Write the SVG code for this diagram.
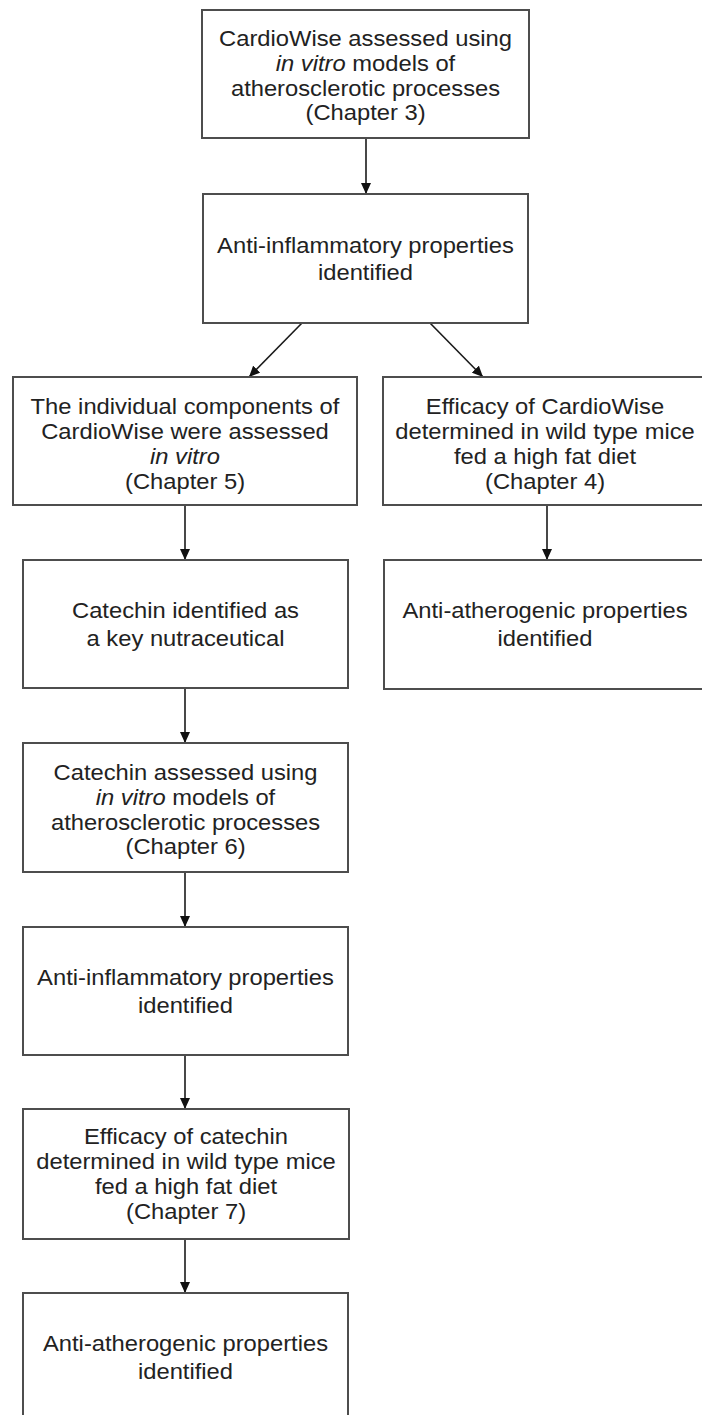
<svg xmlns="http://www.w3.org/2000/svg" width="702" height="1415" viewBox="0 0 702 1415">
<style>
.box{fill:#ffffff;stroke:#4d4d4d;stroke-width:2}
.t{font-family:"Liberation Sans",Arial,sans-serif;font-size:22px;fill:#222222;text-anchor:middle}
.i{font-style:italic}
.c{stroke:#1a1a1a;stroke-width:1.6;fill:none;marker-end:url(#ah)}
</style>
<defs>
<marker id="ah" markerUnits="userSpaceOnUse" markerWidth="12" markerHeight="10" refX="11" refY="5" orient="auto">
<path d="M0,0 L11,5 L0,10 z" fill="#111111"/>
</marker>
</defs>
<rect width="702" height="1415" fill="#ffffff"/>
<g id="connectors">
<line class="c" x1="366" y1="138" x2="366" y2="194"/>
<line class="c" x1="302" y1="323" x2="249" y2="377"/>
<line class="c" x1="430" y1="323" x2="483" y2="377"/>
<line class="c" x1="185" y1="505" x2="185" y2="560"/>
<line class="c" x1="547" y1="505" x2="547" y2="560"/>
<line class="c" x1="185" y1="688" x2="185" y2="743"/>
<line class="c" x1="185" y1="872" x2="185" y2="927"/>
<line class="c" x1="185" y1="1055" x2="185" y2="1109"/>
<line class="c" x1="185" y1="1239" x2="185" y2="1293"/>
</g>
<g id="n1">
<rect class="box" x="202" y="10" width="327" height="128"/>
<g transform="translate(365.5 0) scale(1.08 1)">
<text class="t" x="0" y="46">CardioWise assessed using</text>
<text class="t" x="0" y="71"><tspan class="i">in vitro</tspan> models of</text>
<text class="t" x="0" y="96">atherosclerotic processes</text>
<text class="t" x="0" y="120">(Chapter 3)</text>
</g>
</g>
<g id="n2">
<rect class="box" x="203" y="194" width="325" height="129"/>
<g transform="translate(365.5 0) scale(1.08 1)">
<text class="t" x="0" y="253">Anti-inflammatory properties</text>
<text class="t" x="0" y="280">identified</text>
</g>
</g>
<g id="n3">
<rect class="box" x="13" y="377" width="344" height="128"/>
<g transform="translate(185 0) scale(1.08 1)">
<text class="t" x="0" y="414">The individual components of</text>
<text class="t" x="0" y="439">CardioWise were assessed</text>
<text class="t i" x="0" y="464">in vitro</text>
<text class="t" x="0" y="489">(Chapter 5)</text>
</g>
</g>
<g id="n4">
<rect class="box" x="383" y="377" width="324" height="128"/>
<g transform="translate(545 0) scale(1.08 1)">
<text class="t" x="0" y="414">Efficacy of CardioWise</text>
<text class="t" x="0" y="439">determined in wild type mice</text>
<text class="t" x="0" y="464">fed a high fat diet</text>
<text class="t" x="0" y="489">(Chapter 4)</text>
</g>
</g>
<g id="n5">
<rect class="box" x="23" y="560" width="325" height="128"/>
<g transform="translate(185.5 0) scale(1.08 1)">
<text class="t" x="0" y="618">Catechin identified as</text>
<text class="t" x="0" y="646">a key nutraceutical</text>
</g>
</g>
<g id="n6">
<rect class="box" x="384" y="560" width="323" height="129"/>
<g transform="translate(545 0) scale(1.08 1)">
<text class="t" x="0" y="618">Anti-atherogenic properties</text>
<text class="t" x="0" y="646">identified</text>
</g>
</g>
<g id="n7">
<rect class="box" x="23" y="743" width="325" height="129"/>
<g transform="translate(185.5 0) scale(1.08 1)">
<text class="t" x="0" y="780">Catechin assessed using</text>
<text class="t" x="0" y="805"><tspan class="i">in vitro</tspan> models of</text>
<text class="t" x="0" y="830">atherosclerotic processes</text>
<text class="t" x="0" y="854">(Chapter 6)</text>
</g>
</g>
<g id="n8">
<rect class="box" x="23" y="927" width="325" height="128"/>
<g transform="translate(185.5 0) scale(1.08 1)">
<text class="t" x="0" y="985">Anti-inflammatory properties</text>
<text class="t" x="0" y="1013">identified</text>
</g>
</g>
<g id="n9">
<rect class="box" x="23" y="1109" width="326" height="130"/>
<g transform="translate(186 0) scale(1.08 1)">
<text class="t" x="0" y="1144">Efficacy of catechin</text>
<text class="t" x="0" y="1169">determined in wild type mice</text>
<text class="t" x="0" y="1194">fed a high fat diet</text>
<text class="t" x="0" y="1219">(Chapter 7)</text>
</g>
</g>
<g id="n10">
<rect class="box" x="23" y="1293" width="325" height="130"/>
<g transform="translate(185.5 0) scale(1.08 1)">
<text class="t" x="0" y="1351">Anti-atherogenic properties</text>
<text class="t" x="0" y="1379">identified</text>
</g>
</g>
</svg>
